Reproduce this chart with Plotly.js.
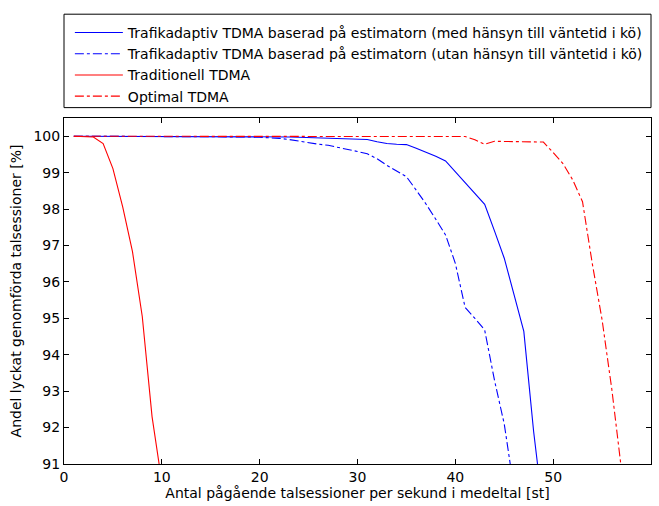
<!DOCTYPE html>
<html>
<head>
<meta charset="utf-8">
<script src="https://cdn.plot.ly/plotly-3.0.1.min.js"></script>
<style>html,body{margin:0;padding:0;background:#fff;}#chart{width:659px;height:506px;}</style>
</head>
<body>
<div id="chart"></div>
<script>
// Data
const xMed = [1,2,3,4,5,6,7,8,9,10,11,12,13,14,15,16,17,18,19,20,21,22,23,24,25,26,27,28,29,30,31,32,33,34,35,36,37,38,39,40,41,42,43,44,45,46,47,48,49];
const yMed = [100,100,100,100,100,99.99,99.99,99.99,99.99,99.99,100,100,100,99.99,99.99,99.99,99.99,99.99,99.99,99.99,99.98,99.98,99.98,99.97,99.96,99.95,99.94,99.93,99.93,99.92,99.91,99.85,99.8,99.78,99.77,99.67,99.57,99.45,99.32,99.03,98.72,98.42,98.13,97.4,96.65,95.65,94.64,91.9,89.65];

const xUtan = [1,2,3,4,5,6,7,8,9,10,11,12,13,14,15,16,17,18,19,20,21,22,23,24,25,26,27,28,29,30,31,32,33,34,35,36,37,38,39,40,41,42,43,44,45,46];
const yUtan = [100,100,100,100,100,100,100,99.99,99.99,99.99,100,100,100,99.99,99.99,99.99,99.99,99.99,99.98,99.97,99.96,99.94,99.91,99.86,99.82,99.78,99.75,99.7,99.65,99.58,99.52,99.38,99.2,99.05,98.89,98.52,98.14,97.72,97.29,96.51,95.3,95.0,94.68,93.3,92.1,90.3];

const xTrad = [1,2,3,4,5,6,7,8,9,10];
const yTrad = [100,100,99.98,99.8,99.11,98.06,96.83,95.05,92.3,90.5];

const xOpt = [1,2,3,4,5,6,7,8,9,10,11,12,13,14,15,16,17,18,19,20,21,22,23,24,25,26,27,28,29,30,31,32,33,34,35,36,37,38,39,40,41,42,43,44,45,46,47,48,49,50,51,52,53,54,55,56,57];
const yOpt = [100,100,100,100,100,100,100,100,100,100,100,100,100,100,100,100,100,100,100,100,100,100,100,100,100,100,100,100,100,100,100,100,100,100,100,100,100,100,100,100,99.99,99.9,99.78,99.86,99.86,99.86,99.86,99.85,99.84,99.55,99.25,98.8,98.2,96.5,94.96,93.04,90.8];

const names = [
  "Trafikadaptiv TDMA baserad på estimatorn (med hänsyn till väntetid i kö)",
  "Trafikadaptiv TDMA baserad på estimatorn (utan hänsyn till väntetid i kö)",
  "Traditionell TDMA",
  "Optimal TDMA"
];
const xTicks = [0,10,20,30,40,50,60];
const yTicks = [91,92,93,94,95,96,97,98,99,100];

const FONT = "DejaVu Sans, Liberation Sans, Arial, sans-serif";
const BLUE = "#0000ff", RED = "#ff0000";

const traces = [
  {x:xMed, y:yMed, name:names[0], mode:"lines", line:{color:BLUE, width:1.1, dash:"solid"}},
  {x:xUtan, y:yUtan, name:names[1], mode:"lines", line:{color:BLUE, width:1.1, dash:"dashdot"}},
  {x:xTrad, y:yTrad, name:names[2], mode:"lines", line:{color:RED, width:1.1, dash:"solid"}},
  {x:xOpt, y:yOpt, name:names[3], mode:"lines", line:{color:RED, width:1.1, dash:"dashdot"}}
];

const axisCommon = {
  showline:true, linecolor:"#000", linewidth:1, mirror:"ticks",
  ticks:"inside", ticklen:5, tickcolor:"#000", tickwidth:1,
  showgrid:false, zeroline:false,
  tickfont:{family:FONT, size:14, color:"#000"}
};

const layout = {
  width:659, height:506,
  margin:{l:64, r:8, t:118, b:42},
  paper_bgcolor:"#fff", plot_bgcolor:"#fff",
  font:{family:FONT, size:14, color:"#000"},
  xaxis:Object.assign({}, axisCommon, {
    range:[0,60], tickvals:xTicks, ticktext:xTicks.map(String),
    title:{text:"Antal pågående talsessioner per sekund i medeltal [st]", font:{family:FONT, size:14, color:"#000"}, standoff:2}
  }),
  yaxis:Object.assign({}, axisCommon, {
    range:[91,100.5], tickvals:yTicks, ticktext:yTicks.map(String),
    title:{text:"Andel lyckat genomförda talsessioner [%]", font:{family:FONT, size:14, color:"#000"}, standoff:8}
  }),
  showlegend:true,
  legend:{
    x:0.01, y:1.292, xanchor:"left", yanchor:"top",
    bgcolor:"rgba(0,0,0,0)", borderwidth:0,
    font:{family:FONT, size:14, color:"#000"},
    itemwidth:48, tracegroupgap:0
  },
  shapes:[{
    type:"rect", xref:"paper", yref:"paper",
    x0:0, x1:1, y0:1.03, y1:1.3,
    line:{color:"#000", width:1}, fillcolor:"rgba(0,0,0,0)"
  }]
};

Plotly.newPlot("chart", traces, layout, {displayModeBar:false, staticPlot:true});
</script>
</body>
</html>
